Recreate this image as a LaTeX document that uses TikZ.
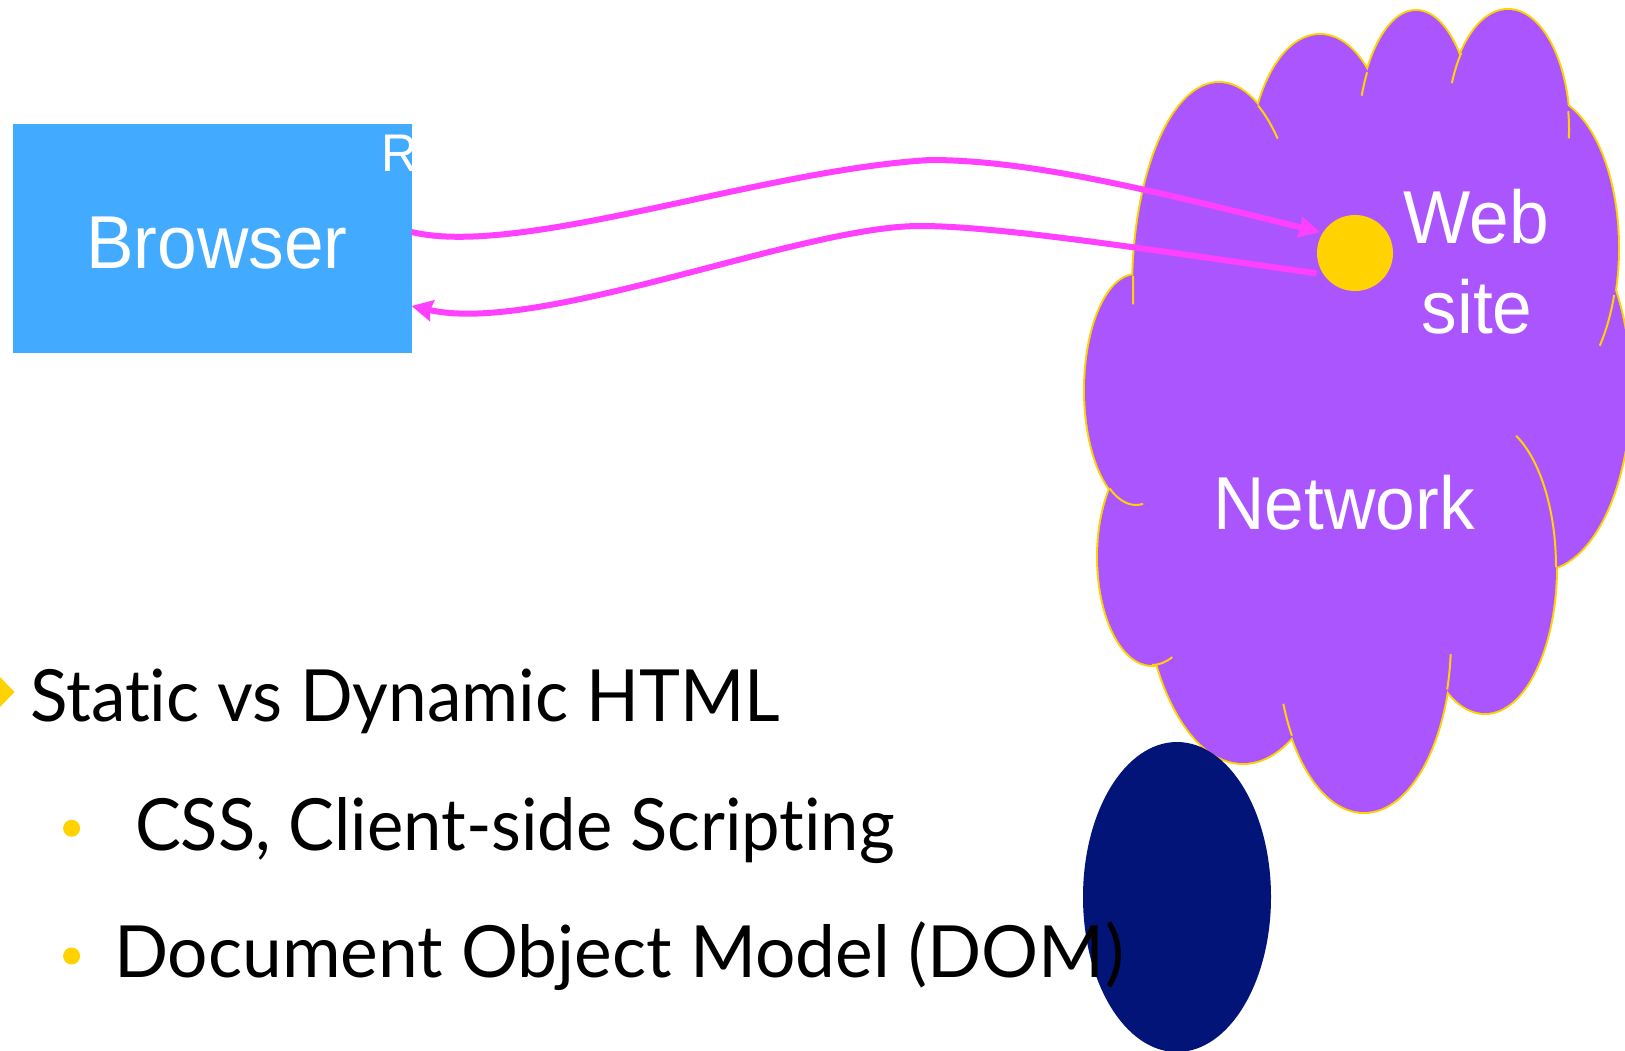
\documentclass[tikz,border=0pt]{standalone}
\usepackage{fontspec}
\usetikzlibrary{arrows.meta}
\newfontfamily\labelfont[FakeStretch=0.95]{Liberation Sans}
\newfontfamily\bodyfonta[FakeStretch=0.963]{Lato}
\newfontfamily\bodyfontb[FakeStretch=0.954]{Lato}
\newfontfamily\bodyfontc[FakeStretch=0.99]{Lato}
\definecolor{browserblue}{HTML}{42ABFF}
\definecolor{cloudpurple}{HTML}{AB55FF}
\definecolor{gold}{HTML}{FFD200}
\definecolor{linkmag}{HTML}{FF40FF}
\definecolor{navyblue}{HTML}{021478}
\tikzset{
  lobeedge/.style={draw=gold, line width=4pt},
  lobefill/.style={fill=cloudpurple},
  stubline/.style={draw=gold, line width=2pt},
  wlabel/.style={text=white, font=\labelfont\fontsize{75}{90}\selectfont, inner sep=0pt, outer sep=0pt},
  bodytext/.style={text=black, inner sep=0pt, outer sep=0pt, anchor=base west},
  link/.style={draw=linkmag, line width=6pt, -{Stealth[length=21pt,width=21pt,inset=2pt]}},
  bulletdot/.style={circle, fill=gold, minimum size=17pt, inner sep=0pt, outer sep=0pt},
}
\begin{document}
\begin{tikzpicture}[x=1pt, y=-1pt]
\useasboundingbox (0,0) rectangle (1625,1051);
\clip (0,0) rectangle (1625,1051);

% cloud: outline of the union of lobes
\foreach \cx/\cy/\rx/\ry in {1219/290/86/207, 1320/170/70/135, 1416/150/59/139, 1508/130/61/120, 1540/248/78/152, 1540/390/90/180, 1485/567/71/146, 1364/639/87/173, 1243/560/100/203, 1152/557/54/108, 1136/390/51/115}
  \draw[lobeedge] (\cx,\cy) ellipse [x radius=\rx, y radius=\ry];
\foreach \cx/\cy/\rx/\ry in {1219/290/86/207, 1320/170/70/135, 1416/150/59/139, 1508/130/61/120, 1540/248/78/152, 1540/390/90/180, 1485/567/71/146, 1364/639/87/173, 1243/560/100/203, 1152/557/54/108, 1136/390/51/115}
  \fill[lobefill] (\cx,\cy) ellipse [x radius=\rx, y radius=\ry];
\fill[lobefill] (1219,290) -- (1320,170) -- (1416,150) -- (1508,130) -- (1540,248) -- (1540,390) -- (1485,567) -- (1364,639) -- (1243,560) -- (1152,557) -- (1136,390) -- cycle;
% inner stubs
\foreach \cx/\cy/\rx/\ry/\a/\b in {1219/290/86/207/-63/-47, 1416/150/59/139/-146/-157, 1508/130/61/120/-140/-157, 1508/130/61/120/-9/4, 1540/248/78/152/18/40, 1485/567/71/146/0/-64, 1364/639/87/173/17/5, 1364/639/87/173/146/158, 1152/557/54/108/90/68, 1136/390/51/115/121/82, 1219/290/86/207/184/176}
  \draw[stubline] ({\cx+\rx*cos(\a)},{\cy+\ry*sin(\a)}) arc[start angle=\a, end angle=\b, x radius=\rx, y radius=\ry];

% browser box
\node[fill=browserblue, minimum width=399pt, minimum height=229pt, inner sep=0pt, outer sep=0pt] (browser) at (212,238.5) {};
\node[wlabel, anchor=base] (browsertext) at (217,269) {Browser};
\begin{scope}
  \clip (browser.north west) rectangle (browser.south east);
  \node[wlabel, font=\labelfont\fontsize{53}{60}\selectfont, anchor=base west] (rtext) at (381,171.7) {R};
\end{scope}

% web site dot
\node[circle, fill=gold, minimum size=76pt, inner sep=0pt, outer sep=0pt] (dot) at (1355,253) {};

% connectors
\draw[link, shorten >=3pt] ([yshift=6.5pt]browser.east) .. controls (520,258) and (760,170) .. (930,160) .. controls (1030,160) and (1150,190) .. (dot.148);
\draw[link, shorten <=7pt] (dot.214) .. controls (1150,250) and (1000,226) .. (920,226) .. controls (800,226) and (540,335) .. ([yshift=-67.5pt]browser.east);

% cloud labels
\node[wlabel, anchor=base] (webtext) at (1476,243.3) {Web};
\node[wlabel, anchor=base] (sitetext) at (1477,333.3) {site};
\node[wlabel, anchor=base] (networktext) at (1344,529.3) {Network};

% navy ellipse
\fill[navyblue] (1177,897) ellipse [x radius=94, y radius=155];

% bullets
\fill[gold] (-15,692) -- (0,677) -- (14.5,692) -- (0,707) -- cycle;
\node[bulletdot] (bulletone) at (71.6,828.3) {};
\node[bulletdot] (bullettwo) at (71.6,956) {};
\node[bodytext, font=\bodyfonta\fontsize{72}{86}\selectfont] (lineone) at (30,721.7) {Stat\kern0pt ic vs Dynamic HTML};
\node[bodytext, font=\bodyfontb\fontsize{72}{86}\selectfont] (linetwo) at (135,850) {CSS, Client-side Script\kern0pt ing};
\node[bodytext, font=\bodyfontc\fontsize{72}{86}\selectfont] (linethree) at (114,977) {Document Object Model (DOM)};
\end{tikzpicture}
\end{document}
